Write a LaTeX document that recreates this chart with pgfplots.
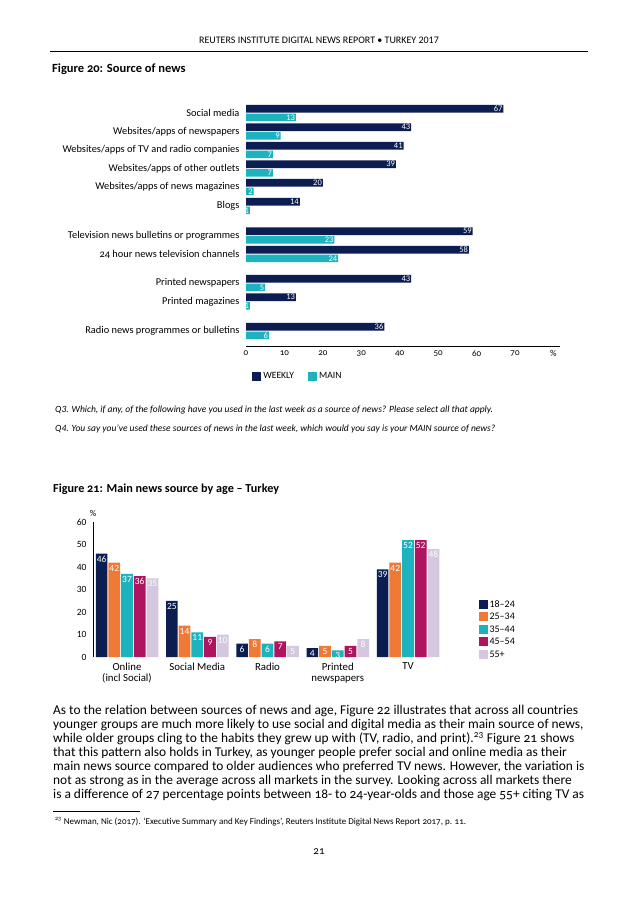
\documentclass[border=0pt]{standalone}
\usepackage{fontspec}
\setmainfont{Carlito}
\newfontfamily\osf{Carlito}[Numbers=OldStyle]
\usepackage{pgfplots}
\pgfplotsset{compat=1.18}

\definecolor{navy}{HTML}{0B1D51}
\definecolor{teal}{HTML}{1DB3BE}
\definecolor{orng}{HTML}{EE7A36}
\definecolor{mgnt}{HTML}{AE1460}
\definecolor{lvnd}{HTML}{D5C7DD}

\pgfplotsset{
  sqlegend/.style={legend image code/.code={\fill[##1] (0pt,-4.5pt) rectangle (9pt,4.5pt);}},
}

\begin{document}
\begin{tikzpicture}
\useasboundingbox (0pt,0pt) rectangle (638pt,-903pt);
\fill[white] (0pt,0pt) rectangle (638pt,-903pt);

% page header
\node[font=\fontsize{10}{11}\selectfont] at (319pt,-40pt) {REUTERS INSTITUTE DIGITAL NEWS REPORT • TURKEY 2017};
\draw[line width=0.8pt] (50pt,-51pt) -- (588pt,-51pt);
\node[anchor=west, inner sep=0pt, font=\osf\bfseries\fontsize{12.5}{14}\selectfont] at (52pt,-69pt) {Figure 20: Source of news};

% Figure 20
\begin{axis}[
  at={(246pt,-346pt)}, anchor=south west,
  x=3.843pt, y=1pt,
  xmin=0, xmax=81.6, ymin=-346, ymax=-96,
  axis x line=bottom, axis y line=left, axis line style={-},
  y axis line style={draw=none}, x axis line style={line width=0.8pt},
  major tick length=0,
  xtick={0,10,...,80}, xticklabels={0,10,20,30,40,50,60,70,\%},
  xticklabel style={font=\osf\fontsize{9}{10}\selectfont, yshift=-1pt},
  ytick={-113,-131.5,-150,-168.5,-187,-206,-235.5,-254,-283,-301.5,-331},
  yticklabels={Social media, Websites/apps of newspapers, Websites/apps of TV and radio companies,
    Websites/apps of other outlets, Websites/apps of news magazines, Blogs,
    Television news bulletins or programmes, 24 hour news television channels,
    Printed newspapers, Printed magazines, Radio news programmes or bulletins},
  yticklabel style={font=\osf\fontsize{10.4}{11}\selectfont, xshift=-3pt},
  /pgf/number format/assume math mode=true,
  point meta=x,
  nodes near coords,
  nodes near coords style={anchor=east, text=white, inner sep=0.8pt, font=\fontsize{8.5}{9}\selectfont},
  sqlegend,
  legend columns=2,
  legend style={at={(0.01,-0.09)}, anchor=north west, draw=none, fill=none,
    font=\fontsize{9.6}{11}\selectfont, /tikz/every even column/.style={column sep=12pt}},
]
\addplot[xbar, bar width=7.6pt, bar shift=0pt, fill=navy, draw=none] coordinates {
  (67,-108.7) (43,-127.2) (41,-145.7) (39,-164.2) (20,-182.7) (14,-201.7)
  (59,-231.2) (58,-249.7) (43,-278.7) (13,-297.2) (36,-326.7)};
\addplot[xbar, bar width=7.6pt, bar shift=0pt, fill=teal, draw=none] coordinates {
  (13,-117.3) (9,-135.8) (7,-154.3) (7,-172.8) (2,-191.3) (1,-210.3)
  (23,-239.8) (24,-258.3) (5,-287.3) (1,-305.8) (6,-335.3)};
\legend{WEEKLY, MAIN}
\end{axis}

% survey questions
\node[anchor=west, inner sep=0pt, font=\itshape\fontsize{9.5}{11}\selectfont] at (55pt,-410pt)
  {Q3. Which, if any, of the following have you used in the last week as a source of news? Please select all that apply.};
\node[anchor=west, inner sep=0pt, font=\itshape\fontsize{9.5}{11}\selectfont] at (55pt,-429pt)
  {Q4. You say you've used these sources of news in the last week, which would you say is your MAIN source of news?};

\node[anchor=west, inner sep=0pt, font=\osf\bfseries\fontsize{12.2}{14}\selectfont] at (53pt,-489pt) {Figure 21: Main news source by age – Turkey};

% Figure 21
\begin{axis}[
  at={(93pt,-657pt)}, anchor=south west,
  x=70.25pt, y=2.25pt,
  xmin=-0.484, xmax=4.7, ymin=0, ymax=60,
  ybar=1pt, bar width=11.7pt,
  axis lines=left, axis line style={-},
  x axis line style={draw=none}, y axis line style={line width=0.8pt},
  major tick length=0,
  xtick={0,1,2,3,4},
  xticklabels={{Online\\(incl Social)}, Social Media, Radio, {Printed\\newspapers}, TV},
  xticklabel style={align=center, font=\fontsize{10.8}{11.5}\selectfont, yshift=-2pt},
  ytick={0,10,...,60},
  yticklabel style={font=\fontsize{9.5}{10}\selectfont, xshift=-3pt},
  /pgf/number format/assume math mode=true,
  ylabel={\%}, ylabel style={rotate=-90, at={(axis description cs:0,1)}, anchor=south, font=\fontsize{9}{10}\selectfont, yshift=2pt},
  nodes near coords,
  nodes near coords style={anchor=north, text=white, inner sep=1.2pt, yshift=-1pt, font=\fontsize{9.5}{10}\selectfont},
  sqlegend,
  legend cell align=left,
  legend style={at={(1.05,0.45)}, anchor=north west, draw=none, fill=none,
    font=\fontsize{10}{11}\selectfont, row sep=0.5pt,
    nodes={text height=7pt, text depth=1pt, inner sep=2pt}},
]
\addplot[fill=navy, draw=none] coordinates {(0,46) (1,25) (2,6) (3,4) (4,39)};
\addplot[fill=orng, draw=none] coordinates {(0,42) (1,14) (2,8) (3,5) (4,42)};
\addplot[fill=teal, draw=none] coordinates {(0,37) (1,11) (2,6) (3,3) (4,52)};
\addplot[fill=mgnt, draw=none] coordinates {(0,36) (1,9) (2,7) (3,5) (4,52)};
\addplot[fill=lvnd, draw=none] coordinates {(0,35) (1,10) (2,5) (3,8) (4,48)};
\legend{18–24, 25–34, 35–44, 45–54, 55+}
\end{axis}

% body text
\node[anchor=north west, align=left, inner sep=0pt, font=\osf\fontsize{13.4}{14}\selectfont] at (53pt,-705pt) {%
As to the relation between sources of news and age, Figure 22 illustrates that across all countries\\
younger groups are much more likely to use social and digital media as their main source of news,\\
while older groups cling to the habits they grew up with (TV, radio, and print).\textsuperscript{23} Figure 21 shows\\
that this pattern also holds in Turkey, as younger people prefer social and online media as their\\
main news source compared to older audiences who preferred TV news. However, the variation is\\
not as strong as in the average across all markets in the survey. Looking across all markets there\\
is a difference of 27 percentage points between 18- to 24-year-olds and those age 55+ citing TV as};

% footnote and page number
\draw[line width=0.6pt] (53pt,-811pt) -- (140pt,-811pt);
\node[anchor=west, inner sep=0pt, font=\osf\fontsize{9}{10}\selectfont] at (55pt,-822pt)
  {\textsuperscript{23}\ Newman, Nic (2017). ‘Executive Summary and Key Findings’, Reuters Institute Digital News Report 2017, p. 11.};
\node[font=\osf\fontsize{11}{12}\selectfont] at (319pt,-852pt) {21};
\end{tikzpicture}
\end{document}
